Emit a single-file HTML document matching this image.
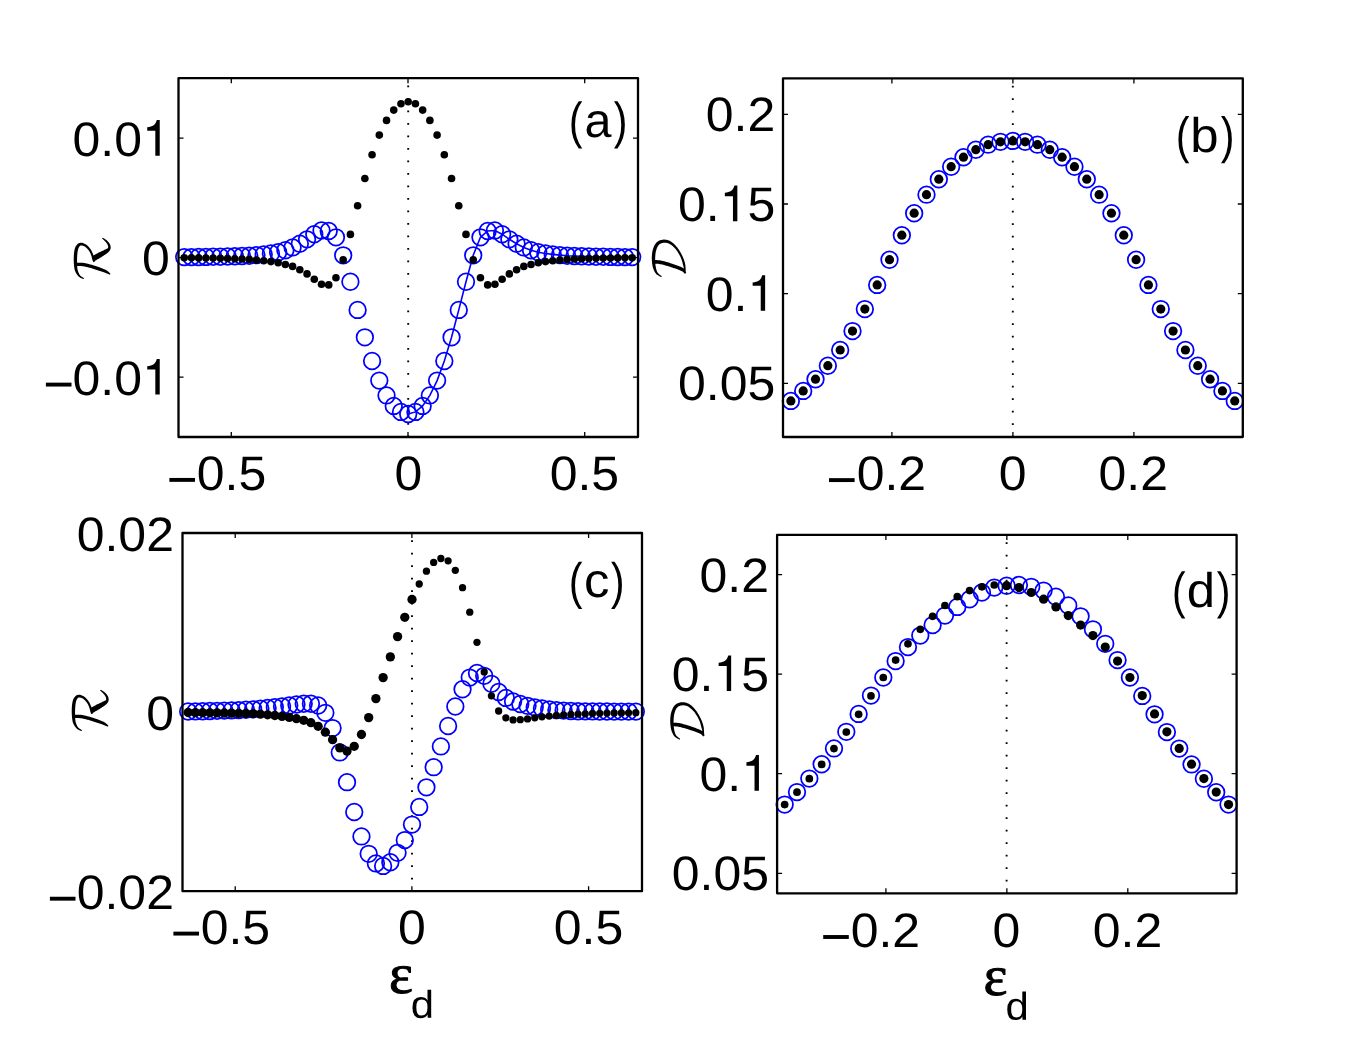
<!DOCTYPE html>
<html><head><meta charset="utf-8"><title>figure</title>
<style>html,body{margin:0;padding:0;background:#fff}svg{display:block}text{fill:#000;text-rendering:geometricPrecision}</style></head><body>
<svg width="1372" height="1050" viewBox="0 0 1372 1050">
<rect width="1372" height="1050" fill="#fff"/>
<line x1="408.20" y1="85.50" x2="408.20" y2="436.00" stroke="#000" stroke-width="1.9" stroke-dasharray="1.7 10.8"/>
<path d="M408.20 414.00 L415.43 411.90 L422.65 405.90 L429.88 395.40 L437.10 380.60 L444.32 361.00 L451.55 337.30 L458.77 309.90 L466.00 281.70 L473.22 255.30 L480.45 237.30 L487.67 231.00 L494.90 230.50 L502.12 234.20 L509.35 239.30 L516.58 243.70 L523.80 247.40 L531.02 250.20 L538.25 252.20 L545.48 253.50 L552.70 254.40 L559.92 255.10 L567.15 255.70 L574.38 256.00 L581.60 256.30 L588.83 256.50 L596.05 256.70 L603.27 256.80 L610.50 256.90 L617.72 257.00 L624.95 257.10 L632.17 257.10" fill="none" stroke="#0000ff" stroke-width="1.6"/>
<circle cx="184.22" cy="257.10" r="8.30" fill="none" stroke="#0000ff" stroke-width="1.75"/>
<circle cx="191.45" cy="257.10" r="8.30" fill="none" stroke="#0000ff" stroke-width="1.75"/>
<circle cx="198.68" cy="257.00" r="8.30" fill="none" stroke="#0000ff" stroke-width="1.75"/>
<circle cx="205.90" cy="256.90" r="8.30" fill="none" stroke="#0000ff" stroke-width="1.75"/>
<circle cx="213.12" cy="256.80" r="8.30" fill="none" stroke="#0000ff" stroke-width="1.75"/>
<circle cx="220.35" cy="256.70" r="8.30" fill="none" stroke="#0000ff" stroke-width="1.75"/>
<circle cx="227.57" cy="256.50" r="8.30" fill="none" stroke="#0000ff" stroke-width="1.75"/>
<circle cx="234.80" cy="256.30" r="8.30" fill="none" stroke="#0000ff" stroke-width="1.75"/>
<circle cx="242.03" cy="256.00" r="8.30" fill="none" stroke="#0000ff" stroke-width="1.75"/>
<circle cx="249.25" cy="255.70" r="8.30" fill="none" stroke="#0000ff" stroke-width="1.75"/>
<circle cx="256.48" cy="255.10" r="8.30" fill="none" stroke="#0000ff" stroke-width="1.75"/>
<circle cx="263.70" cy="254.40" r="8.30" fill="none" stroke="#0000ff" stroke-width="1.75"/>
<circle cx="270.92" cy="253.50" r="8.30" fill="none" stroke="#0000ff" stroke-width="1.75"/>
<circle cx="278.15" cy="252.20" r="8.30" fill="none" stroke="#0000ff" stroke-width="1.75"/>
<circle cx="285.38" cy="250.20" r="8.30" fill="none" stroke="#0000ff" stroke-width="1.75"/>
<circle cx="292.60" cy="247.40" r="8.30" fill="none" stroke="#0000ff" stroke-width="1.75"/>
<circle cx="299.82" cy="243.70" r="8.30" fill="none" stroke="#0000ff" stroke-width="1.75"/>
<circle cx="307.05" cy="239.30" r="8.30" fill="none" stroke="#0000ff" stroke-width="1.75"/>
<circle cx="314.27" cy="234.20" r="8.30" fill="none" stroke="#0000ff" stroke-width="1.75"/>
<circle cx="321.50" cy="230.50" r="8.30" fill="none" stroke="#0000ff" stroke-width="1.75"/>
<circle cx="328.73" cy="231.00" r="8.30" fill="none" stroke="#0000ff" stroke-width="1.75"/>
<circle cx="335.95" cy="237.30" r="8.30" fill="none" stroke="#0000ff" stroke-width="1.75"/>
<circle cx="343.18" cy="255.30" r="8.30" fill="none" stroke="#0000ff" stroke-width="1.75"/>
<circle cx="350.40" cy="281.70" r="8.30" fill="none" stroke="#0000ff" stroke-width="1.75"/>
<circle cx="357.62" cy="309.90" r="8.30" fill="none" stroke="#0000ff" stroke-width="1.75"/>
<circle cx="364.85" cy="337.30" r="8.30" fill="none" stroke="#0000ff" stroke-width="1.75"/>
<circle cx="372.07" cy="361.00" r="8.30" fill="none" stroke="#0000ff" stroke-width="1.75"/>
<circle cx="379.30" cy="380.60" r="8.30" fill="none" stroke="#0000ff" stroke-width="1.75"/>
<circle cx="386.52" cy="395.40" r="8.30" fill="none" stroke="#0000ff" stroke-width="1.75"/>
<circle cx="393.75" cy="405.90" r="8.30" fill="none" stroke="#0000ff" stroke-width="1.75"/>
<circle cx="400.97" cy="411.90" r="8.30" fill="none" stroke="#0000ff" stroke-width="1.75"/>
<circle cx="408.20" cy="414.00" r="8.30" fill="none" stroke="#0000ff" stroke-width="1.75"/>
<circle cx="415.43" cy="411.90" r="8.30" fill="none" stroke="#0000ff" stroke-width="1.75"/>
<circle cx="422.65" cy="405.90" r="8.30" fill="none" stroke="#0000ff" stroke-width="1.75"/>
<circle cx="429.88" cy="395.40" r="8.30" fill="none" stroke="#0000ff" stroke-width="1.75"/>
<circle cx="437.10" cy="380.60" r="8.30" fill="none" stroke="#0000ff" stroke-width="1.75"/>
<circle cx="444.32" cy="361.00" r="8.30" fill="none" stroke="#0000ff" stroke-width="1.75"/>
<circle cx="451.55" cy="337.30" r="8.30" fill="none" stroke="#0000ff" stroke-width="1.75"/>
<circle cx="458.77" cy="309.90" r="8.30" fill="none" stroke="#0000ff" stroke-width="1.75"/>
<circle cx="466.00" cy="281.70" r="8.30" fill="none" stroke="#0000ff" stroke-width="1.75"/>
<circle cx="473.22" cy="255.30" r="8.30" fill="none" stroke="#0000ff" stroke-width="1.75"/>
<circle cx="480.45" cy="237.30" r="8.30" fill="none" stroke="#0000ff" stroke-width="1.75"/>
<circle cx="487.67" cy="231.00" r="8.30" fill="none" stroke="#0000ff" stroke-width="1.75"/>
<circle cx="494.90" cy="230.50" r="8.30" fill="none" stroke="#0000ff" stroke-width="1.75"/>
<circle cx="502.12" cy="234.20" r="8.30" fill="none" stroke="#0000ff" stroke-width="1.75"/>
<circle cx="509.35" cy="239.30" r="8.30" fill="none" stroke="#0000ff" stroke-width="1.75"/>
<circle cx="516.58" cy="243.70" r="8.30" fill="none" stroke="#0000ff" stroke-width="1.75"/>
<circle cx="523.80" cy="247.40" r="8.30" fill="none" stroke="#0000ff" stroke-width="1.75"/>
<circle cx="531.02" cy="250.20" r="8.30" fill="none" stroke="#0000ff" stroke-width="1.75"/>
<circle cx="538.25" cy="252.20" r="8.30" fill="none" stroke="#0000ff" stroke-width="1.75"/>
<circle cx="545.48" cy="253.50" r="8.30" fill="none" stroke="#0000ff" stroke-width="1.75"/>
<circle cx="552.70" cy="254.40" r="8.30" fill="none" stroke="#0000ff" stroke-width="1.75"/>
<circle cx="559.92" cy="255.10" r="8.30" fill="none" stroke="#0000ff" stroke-width="1.75"/>
<circle cx="567.15" cy="255.70" r="8.30" fill="none" stroke="#0000ff" stroke-width="1.75"/>
<circle cx="574.38" cy="256.00" r="8.30" fill="none" stroke="#0000ff" stroke-width="1.75"/>
<circle cx="581.60" cy="256.30" r="8.30" fill="none" stroke="#0000ff" stroke-width="1.75"/>
<circle cx="588.83" cy="256.50" r="8.30" fill="none" stroke="#0000ff" stroke-width="1.75"/>
<circle cx="596.05" cy="256.70" r="8.30" fill="none" stroke="#0000ff" stroke-width="1.75"/>
<circle cx="603.27" cy="256.80" r="8.30" fill="none" stroke="#0000ff" stroke-width="1.75"/>
<circle cx="610.50" cy="256.90" r="8.30" fill="none" stroke="#0000ff" stroke-width="1.75"/>
<circle cx="617.72" cy="257.00" r="8.30" fill="none" stroke="#0000ff" stroke-width="1.75"/>
<circle cx="624.95" cy="257.10" r="8.30" fill="none" stroke="#0000ff" stroke-width="1.75"/>
<circle cx="632.17" cy="257.10" r="8.30" fill="none" stroke="#0000ff" stroke-width="1.75"/>
<circle cx="184.22" cy="257.70" r="3.80" fill="#000"/>
<circle cx="191.45" cy="257.80" r="3.80" fill="#000"/>
<circle cx="198.68" cy="257.90" r="3.80" fill="#000"/>
<circle cx="205.90" cy="258.00" r="3.80" fill="#000"/>
<circle cx="213.12" cy="258.10" r="3.80" fill="#000"/>
<circle cx="220.35" cy="258.30" r="3.80" fill="#000"/>
<circle cx="227.57" cy="258.50" r="3.80" fill="#000"/>
<circle cx="234.80" cy="258.70" r="3.80" fill="#000"/>
<circle cx="242.03" cy="259.00" r="3.80" fill="#000"/>
<circle cx="249.25" cy="259.40" r="3.80" fill="#000"/>
<circle cx="256.48" cy="260.10" r="3.80" fill="#000"/>
<circle cx="263.70" cy="260.70" r="3.80" fill="#000"/>
<circle cx="270.92" cy="261.60" r="3.80" fill="#000"/>
<circle cx="278.15" cy="262.70" r="3.80" fill="#000"/>
<circle cx="285.38" cy="264.50" r="3.80" fill="#000"/>
<circle cx="292.60" cy="266.40" r="3.80" fill="#000"/>
<circle cx="299.82" cy="269.70" r="3.80" fill="#000"/>
<circle cx="307.05" cy="273.90" r="3.80" fill="#000"/>
<circle cx="314.27" cy="279.20" r="3.80" fill="#000"/>
<circle cx="321.50" cy="284.20" r="3.80" fill="#000"/>
<circle cx="328.73" cy="284.90" r="3.80" fill="#000"/>
<circle cx="335.95" cy="277.80" r="3.80" fill="#000"/>
<circle cx="343.18" cy="259.90" r="3.80" fill="#000"/>
<circle cx="350.40" cy="234.40" r="3.80" fill="#000"/>
<circle cx="357.62" cy="205.70" r="3.80" fill="#000"/>
<circle cx="364.85" cy="178.50" r="3.80" fill="#000"/>
<circle cx="372.07" cy="154.80" r="3.80" fill="#000"/>
<circle cx="379.30" cy="135.10" r="3.80" fill="#000"/>
<circle cx="386.52" cy="120.40" r="3.80" fill="#000"/>
<circle cx="393.75" cy="110.10" r="3.80" fill="#000"/>
<circle cx="400.97" cy="103.80" r="3.80" fill="#000"/>
<circle cx="408.20" cy="101.70" r="3.80" fill="#000"/>
<circle cx="415.43" cy="103.80" r="3.80" fill="#000"/>
<circle cx="422.65" cy="110.10" r="3.80" fill="#000"/>
<circle cx="429.88" cy="120.40" r="3.80" fill="#000"/>
<circle cx="437.10" cy="135.10" r="3.80" fill="#000"/>
<circle cx="444.32" cy="154.80" r="3.80" fill="#000"/>
<circle cx="451.55" cy="178.50" r="3.80" fill="#000"/>
<circle cx="458.77" cy="205.70" r="3.80" fill="#000"/>
<circle cx="466.00" cy="234.40" r="3.80" fill="#000"/>
<circle cx="473.22" cy="259.90" r="3.80" fill="#000"/>
<circle cx="480.45" cy="277.80" r="3.80" fill="#000"/>
<circle cx="487.67" cy="284.90" r="3.80" fill="#000"/>
<circle cx="494.90" cy="284.20" r="3.80" fill="#000"/>
<circle cx="502.12" cy="279.20" r="3.80" fill="#000"/>
<circle cx="509.35" cy="273.90" r="3.80" fill="#000"/>
<circle cx="516.58" cy="269.70" r="3.80" fill="#000"/>
<circle cx="523.80" cy="266.40" r="3.80" fill="#000"/>
<circle cx="531.02" cy="264.50" r="3.80" fill="#000"/>
<circle cx="538.25" cy="262.70" r="3.80" fill="#000"/>
<circle cx="545.48" cy="261.60" r="3.80" fill="#000"/>
<circle cx="552.70" cy="260.70" r="3.80" fill="#000"/>
<circle cx="559.92" cy="260.10" r="3.80" fill="#000"/>
<circle cx="567.15" cy="259.40" r="3.80" fill="#000"/>
<circle cx="574.38" cy="259.00" r="3.80" fill="#000"/>
<circle cx="581.60" cy="258.70" r="3.80" fill="#000"/>
<circle cx="588.83" cy="258.50" r="3.80" fill="#000"/>
<circle cx="596.05" cy="258.30" r="3.80" fill="#000"/>
<circle cx="603.27" cy="258.10" r="3.80" fill="#000"/>
<circle cx="610.50" cy="258.00" r="3.80" fill="#000"/>
<circle cx="617.72" cy="257.90" r="3.80" fill="#000"/>
<circle cx="624.95" cy="257.80" r="3.80" fill="#000"/>
<circle cx="632.17" cy="257.70" r="3.80" fill="#000"/>
<rect x="178.50" y="78.20" width="459.50" height="358.80" fill="none" stroke="#000" stroke-width="2.30" stroke-linejoin="round"/>
<path d="M231.30 437.00v-5.00 M231.30 78.20v5.00 M408.00 437.00v-5.00 M408.00 78.20v5.00 M584.70 437.00v-5.00 M584.70 78.20v5.00 M178.50 138.10h5.00 M638.00 138.10h-5.00 M178.50 257.60h5.00 M638.00 257.60h-5.00 M178.50 377.20h5.00 M638.00 377.20h-5.00 " stroke="#000" stroke-width="1.30" fill="none"/>
<line x1="1012.80" y1="85.70" x2="1012.80" y2="436.00" stroke="#000" stroke-width="1.9" stroke-dasharray="1.7 10.8"/>
<circle cx="790.86" cy="400.90" r="8.30" fill="none" stroke="#0000ff" stroke-width="1.75"/>
<circle cx="803.19" cy="390.90" r="8.30" fill="none" stroke="#0000ff" stroke-width="1.75"/>
<circle cx="815.52" cy="379.20" r="8.30" fill="none" stroke="#0000ff" stroke-width="1.75"/>
<circle cx="827.85" cy="365.70" r="8.30" fill="none" stroke="#0000ff" stroke-width="1.75"/>
<circle cx="840.18" cy="350.00" r="8.30" fill="none" stroke="#0000ff" stroke-width="1.75"/>
<circle cx="852.51" cy="331.10" r="8.30" fill="none" stroke="#0000ff" stroke-width="1.75"/>
<circle cx="864.84" cy="309.10" r="8.30" fill="none" stroke="#0000ff" stroke-width="1.75"/>
<circle cx="877.17" cy="284.90" r="8.30" fill="none" stroke="#0000ff" stroke-width="1.75"/>
<circle cx="889.50" cy="259.70" r="8.30" fill="none" stroke="#0000ff" stroke-width="1.75"/>
<circle cx="901.83" cy="235.20" r="8.30" fill="none" stroke="#0000ff" stroke-width="1.75"/>
<circle cx="914.16" cy="213.20" r="8.30" fill="none" stroke="#0000ff" stroke-width="1.75"/>
<circle cx="926.49" cy="194.65" r="8.30" fill="none" stroke="#0000ff" stroke-width="1.75"/>
<circle cx="938.82" cy="179.20" r="8.30" fill="none" stroke="#0000ff" stroke-width="1.75"/>
<circle cx="951.15" cy="166.70" r="8.30" fill="none" stroke="#0000ff" stroke-width="1.75"/>
<circle cx="963.48" cy="157.20" r="8.30" fill="none" stroke="#0000ff" stroke-width="1.75"/>
<circle cx="975.81" cy="149.70" r="8.30" fill="none" stroke="#0000ff" stroke-width="1.75"/>
<circle cx="988.14" cy="144.65" r="8.30" fill="none" stroke="#0000ff" stroke-width="1.75"/>
<circle cx="1000.47" cy="141.80" r="8.30" fill="none" stroke="#0000ff" stroke-width="1.75"/>
<circle cx="1012.80" cy="140.90" r="8.30" fill="none" stroke="#0000ff" stroke-width="1.75"/>
<circle cx="1025.13" cy="141.80" r="8.30" fill="none" stroke="#0000ff" stroke-width="1.75"/>
<circle cx="1037.46" cy="144.65" r="8.30" fill="none" stroke="#0000ff" stroke-width="1.75"/>
<circle cx="1049.79" cy="149.70" r="8.30" fill="none" stroke="#0000ff" stroke-width="1.75"/>
<circle cx="1062.12" cy="157.20" r="8.30" fill="none" stroke="#0000ff" stroke-width="1.75"/>
<circle cx="1074.45" cy="166.70" r="8.30" fill="none" stroke="#0000ff" stroke-width="1.75"/>
<circle cx="1086.78" cy="179.20" r="8.30" fill="none" stroke="#0000ff" stroke-width="1.75"/>
<circle cx="1099.11" cy="194.65" r="8.30" fill="none" stroke="#0000ff" stroke-width="1.75"/>
<circle cx="1111.44" cy="213.20" r="8.30" fill="none" stroke="#0000ff" stroke-width="1.75"/>
<circle cx="1123.77" cy="235.20" r="8.30" fill="none" stroke="#0000ff" stroke-width="1.75"/>
<circle cx="1136.10" cy="259.70" r="8.30" fill="none" stroke="#0000ff" stroke-width="1.75"/>
<circle cx="1148.43" cy="284.90" r="8.30" fill="none" stroke="#0000ff" stroke-width="1.75"/>
<circle cx="1160.76" cy="309.10" r="8.30" fill="none" stroke="#0000ff" stroke-width="1.75"/>
<circle cx="1173.09" cy="331.10" r="8.30" fill="none" stroke="#0000ff" stroke-width="1.75"/>
<circle cx="1185.42" cy="350.00" r="8.30" fill="none" stroke="#0000ff" stroke-width="1.75"/>
<circle cx="1197.75" cy="365.70" r="8.30" fill="none" stroke="#0000ff" stroke-width="1.75"/>
<circle cx="1210.08" cy="379.20" r="8.30" fill="none" stroke="#0000ff" stroke-width="1.75"/>
<circle cx="1222.41" cy="390.90" r="8.30" fill="none" stroke="#0000ff" stroke-width="1.75"/>
<circle cx="1234.74" cy="400.90" r="8.30" fill="none" stroke="#0000ff" stroke-width="1.75"/>
<circle cx="790.86" cy="400.90" r="4.60" fill="#000"/>
<circle cx="803.19" cy="390.90" r="4.60" fill="#000"/>
<circle cx="815.52" cy="379.20" r="4.60" fill="#000"/>
<circle cx="827.85" cy="365.70" r="4.60" fill="#000"/>
<circle cx="840.18" cy="350.00" r="4.60" fill="#000"/>
<circle cx="852.51" cy="331.10" r="4.60" fill="#000"/>
<circle cx="864.84" cy="309.10" r="4.60" fill="#000"/>
<circle cx="877.17" cy="284.90" r="4.60" fill="#000"/>
<circle cx="889.50" cy="259.70" r="4.60" fill="#000"/>
<circle cx="901.83" cy="235.20" r="4.60" fill="#000"/>
<circle cx="914.16" cy="213.20" r="4.60" fill="#000"/>
<circle cx="926.49" cy="194.65" r="4.60" fill="#000"/>
<circle cx="938.82" cy="179.20" r="4.60" fill="#000"/>
<circle cx="951.15" cy="166.70" r="4.60" fill="#000"/>
<circle cx="963.48" cy="157.20" r="4.60" fill="#000"/>
<circle cx="975.81" cy="149.70" r="4.60" fill="#000"/>
<circle cx="988.14" cy="144.65" r="4.60" fill="#000"/>
<circle cx="1000.47" cy="141.80" r="4.60" fill="#000"/>
<circle cx="1012.80" cy="140.90" r="4.60" fill="#000"/>
<circle cx="1025.13" cy="141.80" r="4.60" fill="#000"/>
<circle cx="1037.46" cy="144.65" r="4.60" fill="#000"/>
<circle cx="1049.79" cy="149.70" r="4.60" fill="#000"/>
<circle cx="1062.12" cy="157.20" r="4.60" fill="#000"/>
<circle cx="1074.45" cy="166.70" r="4.60" fill="#000"/>
<circle cx="1086.78" cy="179.20" r="4.60" fill="#000"/>
<circle cx="1099.11" cy="194.65" r="4.60" fill="#000"/>
<circle cx="1111.44" cy="213.20" r="4.60" fill="#000"/>
<circle cx="1123.77" cy="235.20" r="4.60" fill="#000"/>
<circle cx="1136.10" cy="259.70" r="4.60" fill="#000"/>
<circle cx="1148.43" cy="284.90" r="4.60" fill="#000"/>
<circle cx="1160.76" cy="309.10" r="4.60" fill="#000"/>
<circle cx="1173.09" cy="331.10" r="4.60" fill="#000"/>
<circle cx="1185.42" cy="350.00" r="4.60" fill="#000"/>
<circle cx="1197.75" cy="365.70" r="4.60" fill="#000"/>
<circle cx="1210.08" cy="379.20" r="4.60" fill="#000"/>
<circle cx="1222.41" cy="390.90" r="4.60" fill="#000"/>
<circle cx="1234.74" cy="400.90" r="4.60" fill="#000"/>
<rect x="783.00" y="78.40" width="459.80" height="358.60" fill="none" stroke="#000" stroke-width="2.30" stroke-linejoin="round"/>
<path d="M891.90 437.00v-5.00 M891.90 78.40v5.00 M1012.90 437.00v-5.00 M1012.90 78.40v5.00 M1133.90 437.00v-5.00 M1133.90 78.40v5.00 M783.00 114.30h5.00 M1242.80 114.30h-5.00 M783.00 204.00h5.00 M1242.80 204.00h-5.00 M783.00 293.65h5.00 M1242.80 293.65h-5.00 M783.00 383.30h5.00 M1242.80 383.30h-5.00 " stroke="#000" stroke-width="1.30" fill="none"/>
<line x1="412.00" y1="540.30" x2="412.00" y2="890.20" stroke="#000" stroke-width="1.9" stroke-dasharray="1.7 10.8"/>
<circle cx="188.18" cy="711.50" r="8.30" fill="none" stroke="#0000ff" stroke-width="1.75"/>
<circle cx="195.40" cy="711.40" r="8.30" fill="none" stroke="#0000ff" stroke-width="1.75"/>
<circle cx="202.62" cy="711.20" r="8.30" fill="none" stroke="#0000ff" stroke-width="1.75"/>
<circle cx="209.84" cy="711.00" r="8.30" fill="none" stroke="#0000ff" stroke-width="1.75"/>
<circle cx="217.06" cy="710.80" r="8.30" fill="none" stroke="#0000ff" stroke-width="1.75"/>
<circle cx="224.28" cy="710.60" r="8.30" fill="none" stroke="#0000ff" stroke-width="1.75"/>
<circle cx="231.50" cy="710.40" r="8.30" fill="none" stroke="#0000ff" stroke-width="1.75"/>
<circle cx="238.72" cy="710.10" r="8.30" fill="none" stroke="#0000ff" stroke-width="1.75"/>
<circle cx="245.94" cy="709.70" r="8.30" fill="none" stroke="#0000ff" stroke-width="1.75"/>
<circle cx="253.16" cy="709.30" r="8.30" fill="none" stroke="#0000ff" stroke-width="1.75"/>
<circle cx="260.38" cy="708.70" r="8.30" fill="none" stroke="#0000ff" stroke-width="1.75"/>
<circle cx="267.60" cy="708.00" r="8.30" fill="none" stroke="#0000ff" stroke-width="1.75"/>
<circle cx="274.82" cy="707.20" r="8.30" fill="none" stroke="#0000ff" stroke-width="1.75"/>
<circle cx="282.04" cy="706.40" r="8.30" fill="none" stroke="#0000ff" stroke-width="1.75"/>
<circle cx="289.26" cy="705.50" r="8.30" fill="none" stroke="#0000ff" stroke-width="1.75"/>
<circle cx="296.48" cy="704.50" r="8.30" fill="none" stroke="#0000ff" stroke-width="1.75"/>
<circle cx="303.70" cy="703.70" r="8.30" fill="none" stroke="#0000ff" stroke-width="1.75"/>
<circle cx="310.92" cy="703.70" r="8.30" fill="none" stroke="#0000ff" stroke-width="1.75"/>
<circle cx="318.14" cy="705.50" r="8.30" fill="none" stroke="#0000ff" stroke-width="1.75"/>
<circle cx="325.36" cy="712.80" r="8.30" fill="none" stroke="#0000ff" stroke-width="1.75"/>
<circle cx="332.58" cy="728.10" r="8.30" fill="none" stroke="#0000ff" stroke-width="1.75"/>
<circle cx="339.80" cy="752.40" r="8.30" fill="none" stroke="#0000ff" stroke-width="1.75"/>
<circle cx="347.02" cy="782.15" r="8.30" fill="none" stroke="#0000ff" stroke-width="1.75"/>
<circle cx="354.24" cy="812.00" r="8.30" fill="none" stroke="#0000ff" stroke-width="1.75"/>
<circle cx="361.46" cy="836.40" r="8.30" fill="none" stroke="#0000ff" stroke-width="1.75"/>
<circle cx="368.68" cy="853.80" r="8.30" fill="none" stroke="#0000ff" stroke-width="1.75"/>
<circle cx="375.90" cy="863.40" r="8.30" fill="none" stroke="#0000ff" stroke-width="1.75"/>
<circle cx="383.12" cy="865.90" r="8.30" fill="none" stroke="#0000ff" stroke-width="1.75"/>
<circle cx="390.34" cy="862.20" r="8.30" fill="none" stroke="#0000ff" stroke-width="1.75"/>
<circle cx="397.56" cy="852.80" r="8.30" fill="none" stroke="#0000ff" stroke-width="1.75"/>
<circle cx="404.78" cy="840.10" r="8.30" fill="none" stroke="#0000ff" stroke-width="1.75"/>
<circle cx="412.00" cy="824.60" r="8.30" fill="none" stroke="#0000ff" stroke-width="1.75"/>
<circle cx="419.22" cy="806.90" r="8.30" fill="none" stroke="#0000ff" stroke-width="1.75"/>
<circle cx="426.44" cy="787.35" r="8.30" fill="none" stroke="#0000ff" stroke-width="1.75"/>
<circle cx="433.66" cy="767.15" r="8.30" fill="none" stroke="#0000ff" stroke-width="1.75"/>
<circle cx="440.88" cy="746.40" r="8.30" fill="none" stroke="#0000ff" stroke-width="1.75"/>
<circle cx="448.10" cy="726.00" r="8.30" fill="none" stroke="#0000ff" stroke-width="1.75"/>
<circle cx="455.32" cy="706.50" r="8.30" fill="none" stroke="#0000ff" stroke-width="1.75"/>
<circle cx="462.54" cy="689.20" r="8.30" fill="none" stroke="#0000ff" stroke-width="1.75"/>
<circle cx="469.76" cy="677.60" r="8.30" fill="none" stroke="#0000ff" stroke-width="1.75"/>
<circle cx="476.98" cy="673.00" r="8.30" fill="none" stroke="#0000ff" stroke-width="1.75"/>
<circle cx="484.20" cy="675.80" r="8.30" fill="none" stroke="#0000ff" stroke-width="1.75"/>
<circle cx="491.42" cy="683.80" r="8.30" fill="none" stroke="#0000ff" stroke-width="1.75"/>
<circle cx="498.64" cy="692.00" r="8.30" fill="none" stroke="#0000ff" stroke-width="1.75"/>
<circle cx="505.86" cy="697.90" r="8.30" fill="none" stroke="#0000ff" stroke-width="1.75"/>
<circle cx="513.08" cy="701.50" r="8.30" fill="none" stroke="#0000ff" stroke-width="1.75"/>
<circle cx="520.30" cy="704.00" r="8.30" fill="none" stroke="#0000ff" stroke-width="1.75"/>
<circle cx="527.52" cy="705.80" r="8.30" fill="none" stroke="#0000ff" stroke-width="1.75"/>
<circle cx="534.74" cy="707.30" r="8.30" fill="none" stroke="#0000ff" stroke-width="1.75"/>
<circle cx="541.96" cy="708.50" r="8.30" fill="none" stroke="#0000ff" stroke-width="1.75"/>
<circle cx="549.18" cy="709.40" r="8.30" fill="none" stroke="#0000ff" stroke-width="1.75"/>
<circle cx="556.40" cy="710.10" r="8.30" fill="none" stroke="#0000ff" stroke-width="1.75"/>
<circle cx="563.62" cy="710.60" r="8.30" fill="none" stroke="#0000ff" stroke-width="1.75"/>
<circle cx="570.84" cy="711.00" r="8.30" fill="none" stroke="#0000ff" stroke-width="1.75"/>
<circle cx="578.06" cy="711.20" r="8.30" fill="none" stroke="#0000ff" stroke-width="1.75"/>
<circle cx="585.28" cy="711.30" r="8.30" fill="none" stroke="#0000ff" stroke-width="1.75"/>
<circle cx="592.50" cy="711.40" r="8.30" fill="none" stroke="#0000ff" stroke-width="1.75"/>
<circle cx="599.72" cy="711.50" r="8.30" fill="none" stroke="#0000ff" stroke-width="1.75"/>
<circle cx="606.94" cy="711.50" r="8.30" fill="none" stroke="#0000ff" stroke-width="1.75"/>
<circle cx="614.16" cy="711.60" r="8.30" fill="none" stroke="#0000ff" stroke-width="1.75"/>
<circle cx="621.38" cy="711.60" r="8.30" fill="none" stroke="#0000ff" stroke-width="1.75"/>
<circle cx="628.60" cy="711.60" r="8.30" fill="none" stroke="#0000ff" stroke-width="1.75"/>
<circle cx="635.82" cy="711.60" r="8.30" fill="none" stroke="#0000ff" stroke-width="1.75"/>
<circle cx="188.18" cy="712.50" r="4.65" fill="#000"/>
<circle cx="195.40" cy="712.60" r="4.65" fill="#000"/>
<circle cx="202.62" cy="712.70" r="4.65" fill="#000"/>
<circle cx="209.84" cy="712.80" r="4.65" fill="#000"/>
<circle cx="217.06" cy="712.90" r="4.65" fill="#000"/>
<circle cx="224.28" cy="713.00" r="4.65" fill="#000"/>
<circle cx="231.50" cy="713.10" r="4.65" fill="#000"/>
<circle cx="238.72" cy="713.30" r="4.65" fill="#000"/>
<circle cx="245.94" cy="713.40" r="4.65" fill="#000"/>
<circle cx="253.16" cy="713.60" r="4.65" fill="#000"/>
<circle cx="260.38" cy="714.20" r="4.65" fill="#000"/>
<circle cx="267.60" cy="714.80" r="4.65" fill="#000"/>
<circle cx="274.82" cy="715.50" r="4.65" fill="#000"/>
<circle cx="282.04" cy="716.40" r="4.65" fill="#000"/>
<circle cx="289.26" cy="717.40" r="4.65" fill="#000"/>
<circle cx="296.48" cy="718.70" r="4.65" fill="#000"/>
<circle cx="303.70" cy="720.30" r="4.65" fill="#000"/>
<circle cx="310.92" cy="722.70" r="4.65" fill="#000"/>
<circle cx="318.14" cy="726.30" r="4.65" fill="#000"/>
<circle cx="325.36" cy="732.20" r="4.65" fill="#000"/>
<circle cx="332.58" cy="739.70" r="4.65" fill="#000"/>
<circle cx="339.80" cy="747.90" r="4.65" fill="#000"/>
<circle cx="347.02" cy="751.10" r="4.65" fill="#000"/>
<circle cx="354.24" cy="746.30" r="4.65" fill="#000"/>
<circle cx="361.46" cy="734.50" r="4.65" fill="#000"/>
<circle cx="368.68" cy="717.60" r="4.65" fill="#000"/>
<circle cx="375.90" cy="698.60" r="4.65" fill="#000"/>
<circle cx="383.12" cy="677.60" r="4.65" fill="#000"/>
<circle cx="390.34" cy="656.90" r="4.65" fill="#000"/>
<circle cx="397.56" cy="636.60" r="4.65" fill="#000"/>
<circle cx="404.78" cy="617.30" r="4.65" fill="#000"/>
<circle cx="412.00" cy="599.50" r="4.65" fill="#000"/>
<circle cx="419.22" cy="584.00" r="3.65" fill="#000"/>
<circle cx="426.44" cy="571.20" r="3.65" fill="#000"/>
<circle cx="433.66" cy="562.40" r="3.65" fill="#000"/>
<circle cx="440.88" cy="558.50" r="3.65" fill="#000"/>
<circle cx="448.10" cy="560.80" r="3.65" fill="#000"/>
<circle cx="455.32" cy="570.30" r="3.65" fill="#000"/>
<circle cx="462.54" cy="587.70" r="3.65" fill="#000"/>
<circle cx="469.76" cy="612.20" r="3.65" fill="#000"/>
<circle cx="476.98" cy="642.30" r="3.65" fill="#000"/>
<circle cx="484.20" cy="671.90" r="3.65" fill="#000"/>
<circle cx="491.42" cy="695.80" r="3.65" fill="#000"/>
<circle cx="498.64" cy="711.00" r="3.65" fill="#000"/>
<circle cx="505.86" cy="717.80" r="3.65" fill="#000"/>
<circle cx="513.08" cy="719.90" r="3.65" fill="#000"/>
<circle cx="520.30" cy="719.70" r="3.65" fill="#000"/>
<circle cx="527.52" cy="718.90" r="3.65" fill="#000"/>
<circle cx="534.74" cy="717.80" r="3.65" fill="#000"/>
<circle cx="541.96" cy="716.80" r="3.65" fill="#000"/>
<circle cx="549.18" cy="716.10" r="3.65" fill="#000"/>
<circle cx="556.40" cy="715.50" r="3.65" fill="#000"/>
<circle cx="563.62" cy="714.90" r="3.65" fill="#000"/>
<circle cx="570.84" cy="714.50" r="3.65" fill="#000"/>
<circle cx="578.06" cy="714.10" r="3.65" fill="#000"/>
<circle cx="585.28" cy="713.80" r="3.65" fill="#000"/>
<circle cx="592.50" cy="713.50" r="3.65" fill="#000"/>
<circle cx="599.72" cy="713.30" r="3.65" fill="#000"/>
<circle cx="606.94" cy="713.10" r="3.65" fill="#000"/>
<circle cx="614.16" cy="713.00" r="3.65" fill="#000"/>
<circle cx="621.38" cy="712.90" r="3.65" fill="#000"/>
<circle cx="628.60" cy="712.80" r="3.65" fill="#000"/>
<circle cx="635.82" cy="712.70" r="3.65" fill="#000"/>
<rect x="182.50" y="533.00" width="459.50" height="358.20" fill="none" stroke="#000" stroke-width="2.30" stroke-linejoin="round"/>
<path d="M235.20 891.20v-5.00 M235.20 533.00v5.00 M411.90 891.20v-5.00 M411.90 533.00v5.00 M588.60 891.20v-5.00 M588.60 533.00v5.00 " stroke="#000" stroke-width="1.30" fill="none"/>
<line x1="1006.60" y1="542.20" x2="1006.60" y2="892.30" stroke="#000" stroke-width="1.9" stroke-dasharray="1.7 10.8"/>
<circle cx="784.66" cy="804.60" r="8.30" fill="none" stroke="#0000ff" stroke-width="1.75"/>
<circle cx="796.99" cy="792.10" r="8.30" fill="none" stroke="#0000ff" stroke-width="1.75"/>
<circle cx="809.32" cy="778.60" r="8.30" fill="none" stroke="#0000ff" stroke-width="1.75"/>
<circle cx="821.65" cy="764.20" r="8.30" fill="none" stroke="#0000ff" stroke-width="1.75"/>
<circle cx="833.98" cy="748.40" r="8.30" fill="none" stroke="#0000ff" stroke-width="1.75"/>
<circle cx="846.31" cy="731.80" r="8.30" fill="none" stroke="#0000ff" stroke-width="1.75"/>
<circle cx="858.64" cy="713.90" r="8.30" fill="none" stroke="#0000ff" stroke-width="1.75"/>
<circle cx="870.97" cy="695.60" r="8.30" fill="none" stroke="#0000ff" stroke-width="1.75"/>
<circle cx="883.30" cy="677.50" r="8.30" fill="none" stroke="#0000ff" stroke-width="1.75"/>
<circle cx="895.63" cy="661.10" r="8.30" fill="none" stroke="#0000ff" stroke-width="1.75"/>
<circle cx="907.96" cy="647.10" r="8.30" fill="none" stroke="#0000ff" stroke-width="1.75"/>
<circle cx="920.29" cy="635.60" r="8.30" fill="none" stroke="#0000ff" stroke-width="1.75"/>
<circle cx="932.62" cy="625.10" r="8.30" fill="none" stroke="#0000ff" stroke-width="1.75"/>
<circle cx="944.95" cy="615.60" r="8.30" fill="none" stroke="#0000ff" stroke-width="1.75"/>
<circle cx="957.28" cy="606.90" r="8.30" fill="none" stroke="#0000ff" stroke-width="1.75"/>
<circle cx="969.61" cy="599.20" r="8.30" fill="none" stroke="#0000ff" stroke-width="1.75"/>
<circle cx="981.94" cy="592.50" r="8.30" fill="none" stroke="#0000ff" stroke-width="1.75"/>
<circle cx="994.27" cy="587.60" r="8.30" fill="none" stroke="#0000ff" stroke-width="1.75"/>
<circle cx="1006.60" cy="585.70" r="8.30" fill="none" stroke="#0000ff" stroke-width="1.75"/>
<circle cx="1018.93" cy="585.00" r="8.30" fill="none" stroke="#0000ff" stroke-width="1.75"/>
<circle cx="1031.26" cy="586.80" r="8.30" fill="none" stroke="#0000ff" stroke-width="1.75"/>
<circle cx="1043.59" cy="590.60" r="8.30" fill="none" stroke="#0000ff" stroke-width="1.75"/>
<circle cx="1055.92" cy="596.70" r="8.30" fill="none" stroke="#0000ff" stroke-width="1.75"/>
<circle cx="1068.25" cy="605.50" r="8.30" fill="none" stroke="#0000ff" stroke-width="1.75"/>
<circle cx="1080.58" cy="616.30" r="8.30" fill="none" stroke="#0000ff" stroke-width="1.75"/>
<circle cx="1092.91" cy="629.30" r="8.30" fill="none" stroke="#0000ff" stroke-width="1.75"/>
<circle cx="1105.24" cy="643.80" r="8.30" fill="none" stroke="#0000ff" stroke-width="1.75"/>
<circle cx="1117.57" cy="660.10" r="8.30" fill="none" stroke="#0000ff" stroke-width="1.75"/>
<circle cx="1129.90" cy="677.50" r="8.30" fill="none" stroke="#0000ff" stroke-width="1.75"/>
<circle cx="1142.23" cy="695.90" r="8.30" fill="none" stroke="#0000ff" stroke-width="1.75"/>
<circle cx="1154.56" cy="714.30" r="8.30" fill="none" stroke="#0000ff" stroke-width="1.75"/>
<circle cx="1166.89" cy="732.10" r="8.30" fill="none" stroke="#0000ff" stroke-width="1.75"/>
<circle cx="1179.22" cy="748.60" r="8.30" fill="none" stroke="#0000ff" stroke-width="1.75"/>
<circle cx="1191.55" cy="764.40" r="8.30" fill="none" stroke="#0000ff" stroke-width="1.75"/>
<circle cx="1203.88" cy="778.70" r="8.30" fill="none" stroke="#0000ff" stroke-width="1.75"/>
<circle cx="1216.21" cy="792.20" r="8.30" fill="none" stroke="#0000ff" stroke-width="1.75"/>
<circle cx="1228.54" cy="804.60" r="8.30" fill="none" stroke="#0000ff" stroke-width="1.75"/>
<circle cx="784.66" cy="804.60" r="3.85" fill="#000"/>
<circle cx="796.99" cy="792.20" r="3.85" fill="#000"/>
<circle cx="809.32" cy="778.70" r="3.85" fill="#000"/>
<circle cx="821.65" cy="764.40" r="3.85" fill="#000"/>
<circle cx="833.98" cy="748.60" r="3.85" fill="#000"/>
<circle cx="846.31" cy="732.10" r="3.85" fill="#000"/>
<circle cx="858.64" cy="714.30" r="3.85" fill="#000"/>
<circle cx="870.97" cy="695.90" r="3.85" fill="#000"/>
<circle cx="883.30" cy="677.50" r="3.85" fill="#000"/>
<circle cx="895.63" cy="660.10" r="3.85" fill="#000"/>
<circle cx="907.96" cy="643.80" r="3.85" fill="#000"/>
<circle cx="920.29" cy="629.30" r="3.85" fill="#000"/>
<circle cx="932.62" cy="616.30" r="3.85" fill="#000"/>
<circle cx="944.95" cy="605.50" r="3.85" fill="#000"/>
<circle cx="957.28" cy="596.70" r="3.85" fill="#000"/>
<circle cx="969.61" cy="590.60" r="3.85" fill="#000"/>
<circle cx="981.94" cy="586.80" r="3.85" fill="#000"/>
<circle cx="994.27" cy="585.00" r="3.85" fill="#000"/>
<circle cx="1006.60" cy="585.70" r="4.60" fill="#000"/>
<circle cx="1018.93" cy="587.60" r="4.60" fill="#000"/>
<circle cx="1031.26" cy="592.50" r="4.60" fill="#000"/>
<circle cx="1043.59" cy="599.20" r="4.60" fill="#000"/>
<circle cx="1055.92" cy="606.90" r="4.60" fill="#000"/>
<circle cx="1068.25" cy="615.60" r="4.60" fill="#000"/>
<circle cx="1080.58" cy="625.10" r="4.60" fill="#000"/>
<circle cx="1092.91" cy="635.60" r="4.60" fill="#000"/>
<circle cx="1105.24" cy="647.10" r="4.60" fill="#000"/>
<circle cx="1117.57" cy="661.10" r="4.60" fill="#000"/>
<circle cx="1129.90" cy="677.50" r="4.60" fill="#000"/>
<circle cx="1142.23" cy="695.60" r="4.60" fill="#000"/>
<circle cx="1154.56" cy="713.90" r="4.60" fill="#000"/>
<circle cx="1166.89" cy="731.80" r="4.60" fill="#000"/>
<circle cx="1179.22" cy="748.40" r="4.60" fill="#000"/>
<circle cx="1191.55" cy="764.20" r="4.60" fill="#000"/>
<circle cx="1203.88" cy="778.60" r="4.60" fill="#000"/>
<circle cx="1216.21" cy="792.10" r="4.60" fill="#000"/>
<circle cx="1228.54" cy="804.60" r="4.60" fill="#000"/>
<rect x="777.10" y="534.90" width="459.50" height="358.40" fill="none" stroke="#000" stroke-width="2.30" stroke-linejoin="round"/>
<path d="M885.90 893.30v-5.00 M885.90 534.90v5.00 M1006.85 893.30v-5.00 M1006.85 534.90v5.00 M1127.80 893.30v-5.00 M1127.80 534.90v5.00 M777.10 574.60h5.00 M1236.60 574.60h-5.00 M777.10 674.10h5.00 M1236.60 674.10h-5.00 M777.10 773.70h5.00 M1236.60 773.70h-5.00 M777.10 873.30h5.00 M1236.60 873.30h-5.00 " stroke="#000" stroke-width="1.30" fill="none"/>
<text transform="translate(72.59 155.70) scale(1.030 1)" font-family="Liberation Sans" font-size="48.50" text-anchor="start">0.0</text>
<path d="M159.73 120.10 L159.73 155.70 L155.33 155.70 L155.33 130.70 L147.23 130.70 L147.23 127.30 C152.73 126.90 155.73 124.70 156.83 120.10 Z" fill="#000"/>
<text transform="translate(142.03 274.50) scale(1.030 1)" font-family="Liberation Sans" font-size="48.50" text-anchor="start">0</text>
<text transform="translate(72.59 394.60) scale(1.030 1)" font-family="Liberation Sans" font-size="48.50" text-anchor="start">0.0</text>
<path d="M159.73 359.00 L159.73 394.60 L155.33 394.60 L155.33 369.60 L147.23 369.60 L147.23 366.20 C152.73 365.80 155.73 363.60 156.83 359.00 Z" fill="#000"/>
<rect x="45.90" y="382.65" width="25.60" height="3.90" fill="#000"/>
<text transform="translate(196.78 489.90) scale(1.030 1)" font-family="Liberation Sans" font-size="48.50" text-anchor="start">0.5</text>
<rect x="169.40" y="477.95" width="25.60" height="3.90" fill="#000"/>
<text transform="translate(394.41 489.90) scale(1.030 1)" font-family="Liberation Sans" font-size="48.50" text-anchor="start">0</text>
<text transform="translate(549.68 489.90) scale(1.030 1)" font-family="Liberation Sans" font-size="48.50" text-anchor="start">0.5</text>
<text transform="translate(705.76 131.45) scale(1.030 1)" font-family="Liberation Sans" font-size="48.50" text-anchor="start">0.2</text>
<text transform="translate(677.99 221.15) scale(1.030 1)" font-family="Liberation Sans" font-size="48.50" text-anchor="start">0.</text>
<path d="M737.35 185.55 L737.35 221.15 L732.95 221.15 L732.95 196.15 L724.85 196.15 L724.85 192.75 C730.35 192.35 733.35 190.15 734.45 185.55 Z" fill="#000"/>
<text transform="translate(747.43 221.15) scale(1.030 1)" font-family="Liberation Sans" font-size="48.50" text-anchor="start">5</text>
<text transform="translate(705.76 310.80) scale(1.030 1)" font-family="Liberation Sans" font-size="48.50" text-anchor="start">0.</text>
<path d="M765.13 275.20 L765.13 310.80 L760.73 310.80 L760.73 285.80 L752.63 285.80 L752.63 282.40 C758.13 282.00 761.13 279.80 762.23 275.20 Z" fill="#000"/>
<text transform="translate(677.99 400.45) scale(1.030 1)" font-family="Liberation Sans" font-size="48.50" text-anchor="start">0.05</text>
<text transform="translate(856.68 490.10) scale(1.030 1)" font-family="Liberation Sans" font-size="48.50" text-anchor="start">0.2</text>
<rect x="829.00" y="478.15" width="25.60" height="3.90" fill="#000"/>
<text transform="translate(998.81 490.10) scale(1.030 1)" font-family="Liberation Sans" font-size="48.50" text-anchor="start">0</text>
<text transform="translate(1098.58 490.10) scale(1.030 1)" font-family="Liberation Sans" font-size="48.50" text-anchor="start">0.2</text>
<text transform="translate(76.69 550.80) scale(1.030 1)" font-family="Liberation Sans" font-size="48.50" text-anchor="start">0.02</text>
<text transform="translate(146.13 729.70) scale(1.030 1)" font-family="Liberation Sans" font-size="48.50" text-anchor="start">0</text>
<text transform="translate(76.69 908.70) scale(1.030 1)" font-family="Liberation Sans" font-size="48.50" text-anchor="start">0.02</text>
<rect x="49.90" y="896.75" width="25.60" height="3.90" fill="#000"/>
<text transform="translate(200.68 943.60) scale(1.030 1)" font-family="Liberation Sans" font-size="48.50" text-anchor="start">0.5</text>
<rect x="173.40" y="931.65" width="25.60" height="3.90" fill="#000"/>
<text transform="translate(398.11 943.60) scale(1.030 1)" font-family="Liberation Sans" font-size="48.50" text-anchor="start">0</text>
<text transform="translate(553.78 943.60) scale(1.030 1)" font-family="Liberation Sans" font-size="48.50" text-anchor="start">0.5</text>
<text transform="translate(699.56 591.60) scale(1.030 1)" font-family="Liberation Sans" font-size="48.50" text-anchor="start">0.2</text>
<text transform="translate(671.79 691.10) scale(1.030 1)" font-family="Liberation Sans" font-size="48.50" text-anchor="start">0.</text>
<path d="M731.15 655.50 L731.15 691.10 L726.75 691.10 L726.75 666.10 L718.65 666.10 L718.65 662.70 C724.15 662.30 727.15 660.10 728.25 655.50 Z" fill="#000"/>
<text transform="translate(741.23 691.10) scale(1.030 1)" font-family="Liberation Sans" font-size="48.50" text-anchor="start">5</text>
<text transform="translate(699.56 790.70) scale(1.030 1)" font-family="Liberation Sans" font-size="48.50" text-anchor="start">0.</text>
<path d="M758.93 755.10 L758.93 790.70 L754.53 790.70 L754.53 765.70 L746.43 765.70 L746.43 762.30 C751.93 761.90 754.93 759.70 756.03 755.10 Z" fill="#000"/>
<text transform="translate(671.79 890.30) scale(1.030 1)" font-family="Liberation Sans" font-size="48.50" text-anchor="start">0.05</text>
<text transform="translate(850.68 947.00) scale(1.030 1)" font-family="Liberation Sans" font-size="48.50" text-anchor="start">0.2</text>
<rect x="823.20" y="935.05" width="25.60" height="3.90" fill="#000"/>
<text transform="translate(992.61 947.00) scale(1.030 1)" font-family="Liberation Sans" font-size="48.50" text-anchor="start">0</text>
<text transform="translate(1092.78 947.00) scale(1.030 1)" font-family="Liberation Sans" font-size="48.50" text-anchor="start">0.2</text>
<path transform="translate(568.90 138.00) scale(0.01989 -0.02475)" d="M127 532Q127 821 217.5 1051.0Q308 1281 496 1484H670Q483 1276 395.5 1042.0Q308 808 308 530Q308 253 394.5 20.0Q481 -213 670 -424H496Q307 -220 217.0 10.5Q127 241 127 528Z" fill="#000"/>
<path transform="translate(613.80 138.00) scale(0.01989 -0.02475)" d="M555 528Q555 239 464.5 9.0Q374 -221 186 -424H12Q200 -214 287.0 18.5Q374 251 374 530Q374 809 286.5 1042.0Q199 1275 12 1484H186Q375 1280 465.0 1049.5Q555 819 555 532Z" fill="#000"/>
<text transform="translate(584.60 136.80) scale(1.000 1)" font-family="Liberation Sans" font-size="48.50" text-anchor="start">a</text>
<path transform="translate(1175.90 152.80) scale(0.01989 -0.02475)" d="M127 532Q127 821 217.5 1051.0Q308 1281 496 1484H670Q483 1276 395.5 1042.0Q308 808 308 530Q308 253 394.5 20.0Q481 -213 670 -424H496Q307 -220 217.0 10.5Q127 241 127 528Z" fill="#000"/>
<path transform="translate(1220.80 152.80) scale(0.01989 -0.02475)" d="M555 528Q555 239 464.5 9.0Q374 -221 186 -424H12Q200 -214 287.0 18.5Q374 251 374 530Q374 809 286.5 1042.0Q199 1275 12 1484H186Q375 1280 465.0 1049.5Q555 819 555 532Z" fill="#000"/>
<text transform="translate(1190.30 151.60) scale(1.050 1)" font-family="Liberation Sans" font-size="48.50" text-anchor="start">b</text>
<path transform="translate(568.90 598.50) scale(0.01989 -0.02475)" d="M127 532Q127 821 217.5 1051.0Q308 1281 496 1484H670Q483 1276 395.5 1042.0Q308 808 308 530Q308 253 394.5 20.0Q481 -213 670 -424H496Q307 -220 217.0 10.5Q127 241 127 528Z" fill="#000"/>
<path transform="translate(610.90 598.50) scale(0.01989 -0.02475)" d="M555 528Q555 239 464.5 9.0Q374 -221 186 -424H12Q200 -214 287.0 18.5Q374 251 374 530Q374 809 286.5 1042.0Q199 1275 12 1484H186Q375 1280 465.0 1049.5Q555 819 555 532Z" fill="#000"/>
<text transform="translate(584.00 597.30) scale(1.050 1)" font-family="Liberation Sans" font-size="48.50" text-anchor="start">c</text>
<path transform="translate(1172.00 608.00) scale(0.01989 -0.02475)" d="M127 532Q127 821 217.5 1051.0Q308 1281 496 1484H670Q483 1276 395.5 1042.0Q308 808 308 530Q308 253 394.5 20.0Q481 -213 670 -424H496Q307 -220 217.0 10.5Q127 241 127 528Z" fill="#000"/>
<path transform="translate(1216.80 608.00) scale(0.01989 -0.02475)" d="M555 528Q555 239 464.5 9.0Q374 -221 186 -424H12Q200 -214 287.0 18.5Q374 251 374 530Q374 809 286.5 1042.0Q199 1275 12 1484H186Q375 1280 465.0 1049.5Q555 819 555 532Z" fill="#000"/>
<text transform="translate(1186.80 606.80) scale(1.050 1)" font-family="Liberation Sans" font-size="48.50" text-anchor="start">d</text>
<text transform="translate(389.00 993.30) scale(1 1)" font-family="Liberation Serif" font-size="57" stroke="#000" stroke-width="1.0" stroke-linejoin="round">&#949;</text>
<path transform="translate(410.70 1017.80) scale(0.02046 -0.01895)" d="M821 174Q771 70 688.5 25.0Q606 -20 484 -20Q279 -20 182.5 118.0Q86 256 86 536Q86 1102 484 1102Q607 1102 689.0 1057.0Q771 1012 821 914H823L821 1035V1484H1001V223Q1001 54 1007 0H835Q832 16 828.5 74.0Q825 132 825 174ZM275 542Q275 315 335.0 217.0Q395 119 530 119Q683 119 752.0 225.0Q821 331 821 554Q821 769 752.0 869.0Q683 969 532 969Q396 969 335.5 868.5Q275 768 275 542Z" fill="#000"/>
<text transform="translate(983.40 995.40) scale(1 1)" font-family="Liberation Serif" font-size="57" stroke="#000" stroke-width="1.0" stroke-linejoin="round">&#949;</text>
<path transform="translate(1005.50 1019.70) scale(0.02046 -0.01895)" d="M821 174Q771 70 688.5 25.0Q606 -20 484 -20Q279 -20 182.5 118.0Q86 256 86 536Q86 1102 484 1102Q607 1102 689.0 1057.0Q771 1012 821 914H823L821 1035V1484H1001V223Q1001 54 1007 0H835Q832 16 828.5 74.0Q825 132 825 174ZM275 542Q275 315 335.0 217.0Q395 119 530 119Q683 119 752.0 225.0Q821 331 821 554Q821 769 752.0 869.0Q683 969 532 969Q396 969 335.5 868.5Q275 768 275 542Z" fill="#000"/>
<path transform="translate(0.00 0.00)" d="M83.98 278.25 L83.73 278.05 L83.38 277.82 L82.98 277.57 L82.54 277.30 L82.07 277.01 L81.60 276.69 L81.14 276.35 L80.72 276.00 L80.35 275.64 L80.04 275.26 L79.75 274.84 L79.45 274.38 L79.16 273.89 L78.89 273.37 L78.63 272.82 L78.39 272.26 L78.16 271.68 L77.96 271.09 L77.79 270.48 L77.64 269.88 L77.51 269.26 L77.40 268.62 L77.31 267.94 L77.25 267.23 L77.20 266.49 L77.16 265.74 L77.14 264.97 L77.13 264.18 L77.12 263.38 L77.11 262.59 L77.08 261.78 L77.07 260.96 L77.06 260.12 L77.07 259.27 L77.08 258.42 L77.10 257.58 L77.14 256.75 L77.18 255.94 L77.24 255.17 L77.31 254.43 L77.37 253.71 L77.45 252.99 L77.53 252.30 L77.62 251.63 L77.72 250.99 L77.83 250.38 L77.96 249.81 L78.10 249.29 L78.25 248.82 L78.42 248.39 L78.59 247.96 L78.79 247.55 L78.99 247.17 L79.21 246.81 L79.43 246.50 L79.66 246.22 L79.88 245.99 L80.10 245.81 L80.31 245.66 L80.51 245.56 L80.73 245.49 L81.01 245.45 L81.35 245.44 L81.74 245.47 L82.17 245.54 L82.61 245.64 L83.06 245.78 L83.52 245.94 L83.96 246.13 L84.39 246.33 L84.79 246.56 L85.20 246.84 L85.63 247.17 L86.06 247.53 L86.49 247.92 L86.91 248.33 L87.32 248.76 L87.72 249.20 L88.10 249.63 L88.45 250.06 L88.77 250.49 L89.07 250.93 L89.35 251.39 L89.62 251.86 L89.88 252.33 L90.13 252.82 L90.37 253.32 L90.59 253.81 L90.81 254.31 L91.01 254.80 L91.19 255.29 L91.36 255.80 L91.52 256.33 L91.66 256.87 L91.80 257.42 L91.93 257.96 L92.05 258.48 L92.16 258.98 L92.28 259.44 L92.39 259.86 L92.52 260.23 L92.63 260.55 L92.74 260.84 L92.83 261.10 L92.93 261.34 L93.01 261.54 L93.09 261.72 L93.16 261.88 L93.22 262.01 L93.28 262.12 L94.81 261.65 L94.79 261.52 L94.76 261.37 L94.73 261.20 L94.69 261.01 L94.65 260.80 L94.60 260.57 L94.54 260.31 L94.47 260.02 L94.40 259.69 L94.32 259.35 L94.23 258.96 L94.13 258.53 L94.03 258.04 L93.92 257.51 L93.80 256.95 L93.66 256.38 L93.51 255.79 L93.35 255.20 L93.17 254.61 L92.97 254.05 L92.76 253.51 L92.54 252.98 L92.31 252.44 L92.06 251.90 L91.80 251.36 L91.52 250.82 L91.22 250.28 L90.90 249.75 L90.56 249.24 L90.20 248.73 L89.82 248.24 L89.42 247.74 L89.00 247.24 L88.55 246.75 L88.09 246.27 L87.61 245.81 L87.12 245.37 L86.62 244.95 L86.10 244.58 L85.58 244.24 L85.05 243.94 L84.51 243.67 L83.95 243.42 L83.37 243.20 L82.78 243.01 L82.18 242.87 L81.57 242.77 L80.95 242.73 L80.33 242.76 L79.71 242.88 L79.11 243.08 L78.56 243.35 L78.05 243.68 L77.57 244.07 L77.14 244.49 L76.73 244.95 L76.36 245.44 L76.01 245.96 L75.69 246.49 L75.40 247.06 L75.14 247.68 L74.92 248.33 L74.73 249.00 L74.56 249.69 L74.42 250.40 L74.30 251.12 L74.19 251.86 L74.09 252.60 L74.00 253.35 L73.92 254.12 L73.86 254.91 L73.81 255.75 L73.77 256.60 L73.74 257.48 L73.73 258.37 L73.73 259.26 L73.73 260.15 L73.75 261.03 L73.78 261.89 L73.81 262.72 L73.87 263.52 L73.93 264.33 L74.00 265.14 L74.07 265.95 L74.16 266.77 L74.27 267.57 L74.39 268.36 L74.55 269.15 L74.73 269.91 L74.95 270.66 L75.23 271.36 L75.53 272.05 L75.85 272.71 L76.20 273.34 L76.57 273.95 L76.95 274.54 L77.36 275.09 L77.77 275.61 L78.20 276.09 L78.65 276.55 L79.15 276.98 L79.70 277.36 L80.27 277.69 L80.85 277.99 L81.41 278.24 L81.96 278.46 L82.46 278.65 L82.90 278.81 L83.26 278.94 L83.54 279.04ZM75.59 265.93 L76.03 265.94 L76.59 265.95 L77.24 265.96 L77.96 265.97 L78.74 265.99 L79.54 266.01 L80.36 266.04 L81.16 266.09 L81.93 266.16 L82.64 266.24 L83.34 266.34 L84.05 266.46 L84.77 266.60 L85.51 266.75 L86.25 266.92 L87.00 267.09 L87.75 267.28 L88.51 267.47 L89.27 267.67 L90.03 267.87 L90.78 268.07 L91.52 268.27 L92.27 268.49 L93.02 268.71 L93.77 268.93 L94.53 269.17 L95.28 269.40 L96.03 269.65 L96.79 269.90 L97.54 270.15 L98.32 270.40 L99.12 270.66 L99.93 270.92 L100.74 271.19 L101.55 271.47 L102.33 271.74 L103.09 272.01 L103.81 272.28 L104.47 272.55 L105.08 272.80 L105.66 272.98 L106.24 273.18 L106.79 273.40 L107.33 273.63 L107.84 273.85 L108.32 274.06 L108.76 274.25 L109.17 274.42 L109.53 274.56 L109.84 274.65 L110.39 273.81 L110.20 273.57 L109.96 273.29 L109.66 272.97 L109.32 272.61 L108.92 272.23 L108.48 271.82 L108.00 271.41 L107.48 270.99 L106.91 270.58 L106.32 270.17 L105.65 269.85 L104.95 269.53 L104.20 269.21 L103.43 268.88 L102.63 268.56 L101.82 268.24 L101.00 267.93 L100.19 267.62 L99.39 267.32 L98.62 267.03 L97.85 266.76 L97.08 266.50 L96.31 266.24 L95.54 265.98 L94.77 265.74 L94.00 265.49 L93.23 265.26 L92.45 265.02 L91.68 264.80 L90.90 264.59 L90.13 264.38 L89.36 264.18 L88.58 263.98 L87.80 263.79 L87.01 263.60 L86.23 263.43 L85.44 263.26 L84.65 263.11 L83.85 262.98 L83.06 262.87 L82.23 262.79 L81.36 262.74 L80.49 262.70 L79.62 262.69 L78.77 262.69 L77.97 262.69 L77.24 262.70 L76.59 262.71 L76.05 262.72 L75.64 262.73ZM94.58 261.13 L94.97 260.89 L95.49 260.58 L96.10 260.21 L96.79 259.80 L97.53 259.36 L98.31 258.90 L99.09 258.44 L99.86 257.98 L100.59 257.55 L101.26 257.15 L101.88 256.74 L102.51 256.33 L103.15 255.92 L103.78 255.51 L104.41 255.10 L105.03 254.70 L105.63 254.30 L106.20 253.90 L106.74 253.51 L107.22 253.14 L107.62 252.79 L107.99 252.46 L108.35 252.14 L108.70 251.81 L109.04 251.48 L109.36 251.12 L109.67 250.73 L109.95 250.30 L110.18 249.84 L110.35 249.35 L110.52 248.86 L110.62 248.37 L110.68 247.88 L110.69 247.39 L110.66 246.90 L110.60 246.41 L110.50 245.94 L110.38 245.47 L110.22 245.01 L110.04 244.56 L109.82 244.10 L109.56 243.65 L109.27 243.21 L108.96 242.78 L108.63 242.35 L108.28 241.94 L107.93 241.54 L107.56 241.16 L107.20 240.79 L106.83 240.43 L106.41 240.09 L105.94 239.75 L105.46 239.42 L104.97 239.10 L104.49 238.80 L104.02 238.53 L103.59 238.28 L103.20 238.07 L102.87 237.90 L102.62 237.77 L102.08 238.49 L102.28 238.70 L102.56 238.96 L102.89 239.26 L103.26 239.58 L103.66 239.93 L104.07 240.30 L104.47 240.67 L104.85 241.05 L105.19 241.41 L105.48 241.76 L105.78 242.11 L106.08 242.48 L106.39 242.85 L106.68 243.23 L106.95 243.62 L107.21 244.00 L107.43 244.38 L107.63 244.74 L107.78 245.08 L107.90 245.40 L108.00 245.73 L108.07 246.06 L108.13 246.40 L108.16 246.72 L108.17 247.03 L108.15 247.33 L108.11 247.60 L108.06 247.84 L107.98 248.06 L107.89 248.23 L107.75 248.35 L107.59 248.44 L107.41 248.53 L107.20 248.62 L106.95 248.73 L106.64 248.86 L106.28 249.01 L105.87 249.18 L105.42 249.39 L104.93 249.62 L104.45 249.87 L103.93 250.13 L103.36 250.41 L102.75 250.70 L102.11 251.00 L101.45 251.32 L100.77 251.64 L100.08 251.96 L99.39 252.29 L98.71 252.62 L98.01 252.99 L97.27 253.39 L96.48 253.80 L95.69 254.23 L94.89 254.65 L94.13 255.05 L93.42 255.43 L92.79 255.76 L92.25 256.04 L91.84 256.25Z" fill="#000" fill-rule="nonzero"/>
<path transform="translate(-2.00 452.00)" d="M83.98 278.25 L83.73 278.05 L83.38 277.82 L82.98 277.57 L82.54 277.30 L82.07 277.01 L81.60 276.69 L81.14 276.35 L80.72 276.00 L80.35 275.64 L80.04 275.26 L79.75 274.84 L79.45 274.38 L79.16 273.89 L78.89 273.37 L78.63 272.82 L78.39 272.26 L78.16 271.68 L77.96 271.09 L77.79 270.48 L77.64 269.88 L77.51 269.26 L77.40 268.62 L77.31 267.94 L77.25 267.23 L77.20 266.49 L77.16 265.74 L77.14 264.97 L77.13 264.18 L77.12 263.38 L77.11 262.59 L77.08 261.78 L77.07 260.96 L77.06 260.12 L77.07 259.27 L77.08 258.42 L77.10 257.58 L77.14 256.75 L77.18 255.94 L77.24 255.17 L77.31 254.43 L77.37 253.71 L77.45 252.99 L77.53 252.30 L77.62 251.63 L77.72 250.99 L77.83 250.38 L77.96 249.81 L78.10 249.29 L78.25 248.82 L78.42 248.39 L78.59 247.96 L78.79 247.55 L78.99 247.17 L79.21 246.81 L79.43 246.50 L79.66 246.22 L79.88 245.99 L80.10 245.81 L80.31 245.66 L80.51 245.56 L80.73 245.49 L81.01 245.45 L81.35 245.44 L81.74 245.47 L82.17 245.54 L82.61 245.64 L83.06 245.78 L83.52 245.94 L83.96 246.13 L84.39 246.33 L84.79 246.56 L85.20 246.84 L85.63 247.17 L86.06 247.53 L86.49 247.92 L86.91 248.33 L87.32 248.76 L87.72 249.20 L88.10 249.63 L88.45 250.06 L88.77 250.49 L89.07 250.93 L89.35 251.39 L89.62 251.86 L89.88 252.33 L90.13 252.82 L90.37 253.32 L90.59 253.81 L90.81 254.31 L91.01 254.80 L91.19 255.29 L91.36 255.80 L91.52 256.33 L91.66 256.87 L91.80 257.42 L91.93 257.96 L92.05 258.48 L92.16 258.98 L92.28 259.44 L92.39 259.86 L92.52 260.23 L92.63 260.55 L92.74 260.84 L92.83 261.10 L92.93 261.34 L93.01 261.54 L93.09 261.72 L93.16 261.88 L93.22 262.01 L93.28 262.12 L94.81 261.65 L94.79 261.52 L94.76 261.37 L94.73 261.20 L94.69 261.01 L94.65 260.80 L94.60 260.57 L94.54 260.31 L94.47 260.02 L94.40 259.69 L94.32 259.35 L94.23 258.96 L94.13 258.53 L94.03 258.04 L93.92 257.51 L93.80 256.95 L93.66 256.38 L93.51 255.79 L93.35 255.20 L93.17 254.61 L92.97 254.05 L92.76 253.51 L92.54 252.98 L92.31 252.44 L92.06 251.90 L91.80 251.36 L91.52 250.82 L91.22 250.28 L90.90 249.75 L90.56 249.24 L90.20 248.73 L89.82 248.24 L89.42 247.74 L89.00 247.24 L88.55 246.75 L88.09 246.27 L87.61 245.81 L87.12 245.37 L86.62 244.95 L86.10 244.58 L85.58 244.24 L85.05 243.94 L84.51 243.67 L83.95 243.42 L83.37 243.20 L82.78 243.01 L82.18 242.87 L81.57 242.77 L80.95 242.73 L80.33 242.76 L79.71 242.88 L79.11 243.08 L78.56 243.35 L78.05 243.68 L77.57 244.07 L77.14 244.49 L76.73 244.95 L76.36 245.44 L76.01 245.96 L75.69 246.49 L75.40 247.06 L75.14 247.68 L74.92 248.33 L74.73 249.00 L74.56 249.69 L74.42 250.40 L74.30 251.12 L74.19 251.86 L74.09 252.60 L74.00 253.35 L73.92 254.12 L73.86 254.91 L73.81 255.75 L73.77 256.60 L73.74 257.48 L73.73 258.37 L73.73 259.26 L73.73 260.15 L73.75 261.03 L73.78 261.89 L73.81 262.72 L73.87 263.52 L73.93 264.33 L74.00 265.14 L74.07 265.95 L74.16 266.77 L74.27 267.57 L74.39 268.36 L74.55 269.15 L74.73 269.91 L74.95 270.66 L75.23 271.36 L75.53 272.05 L75.85 272.71 L76.20 273.34 L76.57 273.95 L76.95 274.54 L77.36 275.09 L77.77 275.61 L78.20 276.09 L78.65 276.55 L79.15 276.98 L79.70 277.36 L80.27 277.69 L80.85 277.99 L81.41 278.24 L81.96 278.46 L82.46 278.65 L82.90 278.81 L83.26 278.94 L83.54 279.04ZM75.59 265.93 L76.03 265.94 L76.59 265.95 L77.24 265.96 L77.96 265.97 L78.74 265.99 L79.54 266.01 L80.36 266.04 L81.16 266.09 L81.93 266.16 L82.64 266.24 L83.34 266.34 L84.05 266.46 L84.77 266.60 L85.51 266.75 L86.25 266.92 L87.00 267.09 L87.75 267.28 L88.51 267.47 L89.27 267.67 L90.03 267.87 L90.78 268.07 L91.52 268.27 L92.27 268.49 L93.02 268.71 L93.77 268.93 L94.53 269.17 L95.28 269.40 L96.03 269.65 L96.79 269.90 L97.54 270.15 L98.32 270.40 L99.12 270.66 L99.93 270.92 L100.74 271.19 L101.55 271.47 L102.33 271.74 L103.09 272.01 L103.81 272.28 L104.47 272.55 L105.08 272.80 L105.66 272.98 L106.24 273.18 L106.79 273.40 L107.33 273.63 L107.84 273.85 L108.32 274.06 L108.76 274.25 L109.17 274.42 L109.53 274.56 L109.84 274.65 L110.39 273.81 L110.20 273.57 L109.96 273.29 L109.66 272.97 L109.32 272.61 L108.92 272.23 L108.48 271.82 L108.00 271.41 L107.48 270.99 L106.91 270.58 L106.32 270.17 L105.65 269.85 L104.95 269.53 L104.20 269.21 L103.43 268.88 L102.63 268.56 L101.82 268.24 L101.00 267.93 L100.19 267.62 L99.39 267.32 L98.62 267.03 L97.85 266.76 L97.08 266.50 L96.31 266.24 L95.54 265.98 L94.77 265.74 L94.00 265.49 L93.23 265.26 L92.45 265.02 L91.68 264.80 L90.90 264.59 L90.13 264.38 L89.36 264.18 L88.58 263.98 L87.80 263.79 L87.01 263.60 L86.23 263.43 L85.44 263.26 L84.65 263.11 L83.85 262.98 L83.06 262.87 L82.23 262.79 L81.36 262.74 L80.49 262.70 L79.62 262.69 L78.77 262.69 L77.97 262.69 L77.24 262.70 L76.59 262.71 L76.05 262.72 L75.64 262.73ZM94.58 261.13 L94.97 260.89 L95.49 260.58 L96.10 260.21 L96.79 259.80 L97.53 259.36 L98.31 258.90 L99.09 258.44 L99.86 257.98 L100.59 257.55 L101.26 257.15 L101.88 256.74 L102.51 256.33 L103.15 255.92 L103.78 255.51 L104.41 255.10 L105.03 254.70 L105.63 254.30 L106.20 253.90 L106.74 253.51 L107.22 253.14 L107.62 252.79 L107.99 252.46 L108.35 252.14 L108.70 251.81 L109.04 251.48 L109.36 251.12 L109.67 250.73 L109.95 250.30 L110.18 249.84 L110.35 249.35 L110.52 248.86 L110.62 248.37 L110.68 247.88 L110.69 247.39 L110.66 246.90 L110.60 246.41 L110.50 245.94 L110.38 245.47 L110.22 245.01 L110.04 244.56 L109.82 244.10 L109.56 243.65 L109.27 243.21 L108.96 242.78 L108.63 242.35 L108.28 241.94 L107.93 241.54 L107.56 241.16 L107.20 240.79 L106.83 240.43 L106.41 240.09 L105.94 239.75 L105.46 239.42 L104.97 239.10 L104.49 238.80 L104.02 238.53 L103.59 238.28 L103.20 238.07 L102.87 237.90 L102.62 237.77 L102.08 238.49 L102.28 238.70 L102.56 238.96 L102.89 239.26 L103.26 239.58 L103.66 239.93 L104.07 240.30 L104.47 240.67 L104.85 241.05 L105.19 241.41 L105.48 241.76 L105.78 242.11 L106.08 242.48 L106.39 242.85 L106.68 243.23 L106.95 243.62 L107.21 244.00 L107.43 244.38 L107.63 244.74 L107.78 245.08 L107.90 245.40 L108.00 245.73 L108.07 246.06 L108.13 246.40 L108.16 246.72 L108.17 247.03 L108.15 247.33 L108.11 247.60 L108.06 247.84 L107.98 248.06 L107.89 248.23 L107.75 248.35 L107.59 248.44 L107.41 248.53 L107.20 248.62 L106.95 248.73 L106.64 248.86 L106.28 249.01 L105.87 249.18 L105.42 249.39 L104.93 249.62 L104.45 249.87 L103.93 250.13 L103.36 250.41 L102.75 250.70 L102.11 251.00 L101.45 251.32 L100.77 251.64 L100.08 251.96 L99.39 252.29 L98.71 252.62 L98.01 252.99 L97.27 253.39 L96.48 253.80 L95.69 254.23 L94.89 254.65 L94.13 255.05 L93.42 255.43 L92.79 255.76 L92.25 256.04 L91.84 256.25Z" fill="#000" fill-rule="nonzero"/>
<path transform="translate(0.00 0.00)" d="M661.83 276.29 L661.55 276.03 L661.17 275.73 L660.72 275.40 L660.22 275.03 L659.69 274.64 L659.17 274.22 L658.66 273.78 L658.20 273.32 L657.81 272.87 L657.50 272.41 L657.24 271.92 L656.99 271.39 L656.76 270.82 L656.55 270.22 L656.36 269.60 L656.19 268.95 L656.03 268.27 L655.89 267.58 L655.77 266.87 L655.66 266.15 L655.53 265.42 L655.43 264.67 L655.34 263.88 L655.27 263.07 L655.22 262.24 L655.19 261.41 L655.17 260.57 L655.16 259.73 L655.18 258.91 L655.20 258.11 L655.22 257.31 L655.26 256.50 L655.31 255.70 L655.37 254.89 L655.45 254.10 L655.55 253.33 L655.66 252.57 L655.80 251.84 L655.95 251.14 L656.13 250.47 L656.33 249.80 L656.54 249.14 L656.77 248.49 L657.02 247.86 L657.29 247.26 L657.56 246.70 L657.86 246.17 L658.16 245.70 L658.47 245.28 L658.80 244.92 L659.14 244.59 L659.52 244.28 L659.92 244.00 L660.35 243.75 L660.80 243.52 L661.27 243.33 L661.75 243.16 L662.25 243.02 L662.76 242.92 L663.27 242.84 L663.80 242.78 L664.36 242.74 L664.94 242.74 L665.54 242.77 L666.14 242.83 L666.75 242.93 L667.36 243.06 L667.97 243.24 L668.57 243.45 L669.16 243.71 L669.76 244.02 L670.37 244.39 L671.01 244.81 L671.65 245.28 L672.29 245.80 L672.94 246.35 L673.57 246.94 L674.19 247.55 L674.80 248.19 L675.39 248.84 L675.95 249.52 L676.50 250.25 L677.05 251.03 L677.59 251.84 L678.12 252.67 L678.63 253.51 L679.12 254.36 L679.58 255.21 L680.02 256.04 L680.43 256.86 L680.79 257.65 L681.11 258.44 L681.41 259.22 L681.69 260.00 L681.95 260.78 L682.18 261.56 L682.41 262.35 L682.61 263.16 L682.81 263.97 L683.00 264.80 L683.25 265.67 L683.49 266.61 L683.72 267.62 L683.93 268.66 L684.13 269.68 L684.32 270.68 L684.49 271.60 L684.65 272.43 L684.80 273.13 L684.94 273.67 L685.74 273.57 L685.75 273.02 L685.74 272.31 L685.73 271.47 L685.71 270.53 L685.67 269.51 L685.62 268.44 L685.55 267.36 L685.47 266.29 L685.37 265.26 L685.24 264.31 L685.03 263.43 L684.80 262.58 L684.56 261.74 L684.31 260.91 L684.04 260.09 L683.75 259.27 L683.43 258.44 L683.09 257.62 L682.72 256.79 L682.33 255.95 L681.92 255.09 L681.48 254.22 L681.01 253.32 L680.52 252.42 L680.00 251.53 L679.47 250.64 L678.91 249.78 L678.34 248.94 L677.76 248.13 L677.16 247.37 L676.57 246.64 L675.95 245.92 L675.31 245.22 L674.66 244.54 L673.98 243.89 L673.30 243.27 L672.60 242.69 L671.89 242.15 L671.17 241.66 L670.45 241.23 L669.70 240.85 L668.94 240.53 L668.18 240.26 L667.40 240.04 L666.63 239.87 L665.87 239.74 L665.11 239.66 L664.37 239.62 L663.64 239.62 L662.93 239.66 L662.22 239.75 L661.52 239.88 L660.83 240.06 L660.14 240.29 L659.47 240.56 L658.82 240.87 L658.18 241.23 L657.57 241.64 L656.99 242.10 L656.44 242.61 L655.92 243.17 L655.45 243.79 L655.02 244.43 L654.62 245.11 L654.26 245.81 L653.93 246.54 L653.63 247.28 L653.35 248.03 L653.09 248.78 L652.86 249.55 L652.65 250.34 L652.47 251.16 L652.31 252.00 L652.18 252.86 L652.07 253.72 L651.98 254.59 L651.91 255.46 L651.86 256.33 L651.83 257.19 L651.80 258.05 L651.82 258.92 L651.84 259.80 L651.89 260.69 L651.95 261.59 L652.03 262.49 L652.13 263.38 L652.25 264.26 L652.38 265.12 L652.54 265.96 L652.72 266.77 L652.94 267.53 L653.18 268.29 L653.44 269.03 L653.71 269.75 L654.01 270.46 L654.33 271.14 L654.68 271.80 L655.05 272.44 L655.46 273.03 L655.90 273.61 L656.42 274.15 L657.01 274.64 L657.63 275.09 L658.27 275.49 L658.90 275.85 L659.51 276.17 L660.08 276.45 L660.59 276.69 L661.00 276.88 L661.32 277.04ZM652.78 263.48 L653.29 263.53 L653.93 263.57 L654.66 263.61 L655.47 263.65 L656.34 263.70 L657.26 263.78 L658.21 263.87 L659.17 263.98 L660.12 264.13 L661.06 264.31 L662.04 264.52 L663.10 264.78 L664.21 265.07 L665.37 265.39 L666.55 265.74 L667.74 266.09 L668.92 266.46 L670.08 266.83 L671.20 267.20 L672.27 267.55 L673.33 267.90 L674.40 268.25 L675.46 268.61 L676.50 268.97 L677.51 269.33 L678.47 269.69 L679.37 270.04 L680.18 270.39 L680.90 270.73 L681.49 271.04 L681.99 271.26 L682.42 271.51 L682.81 271.77 L683.16 272.06 L683.48 272.36 L683.77 272.67 L684.05 272.98 L684.31 273.28 L684.58 273.57 L684.84 273.77 L686.14 272.85 L686.09 272.61 L686.02 272.33 L685.92 271.95 L685.78 271.50 L685.57 271.00 L685.30 270.45 L684.94 269.86 L684.48 269.27 L683.91 268.68 L683.25 268.12 L682.47 267.69 L681.62 267.27 L680.72 266.86 L679.75 266.45 L678.74 266.05 L677.70 265.66 L676.63 265.27 L675.55 264.89 L674.48 264.51 L673.42 264.14 L672.34 263.77 L671.20 263.39 L670.02 263.01 L668.82 262.62 L667.60 262.24 L666.39 261.88 L665.18 261.53 L664.01 261.21 L662.88 260.93 L661.79 260.68 L660.71 260.50 L659.63 260.35 L658.56 260.24 L657.53 260.17 L656.55 260.11 L655.64 260.07 L654.81 260.05 L654.08 260.03 L653.49 260.01 L653.01 259.99Z" fill="#000" fill-rule="nonzero"/>
<path transform="translate(18.40 462.60)" d="M661.83 276.29 L661.55 276.03 L661.17 275.73 L660.72 275.40 L660.22 275.03 L659.69 274.64 L659.17 274.22 L658.66 273.78 L658.20 273.32 L657.81 272.87 L657.50 272.41 L657.24 271.92 L656.99 271.39 L656.76 270.82 L656.55 270.22 L656.36 269.60 L656.19 268.95 L656.03 268.27 L655.89 267.58 L655.77 266.87 L655.66 266.15 L655.53 265.42 L655.43 264.67 L655.34 263.88 L655.27 263.07 L655.22 262.24 L655.19 261.41 L655.17 260.57 L655.16 259.73 L655.18 258.91 L655.20 258.11 L655.22 257.31 L655.26 256.50 L655.31 255.70 L655.37 254.89 L655.45 254.10 L655.55 253.33 L655.66 252.57 L655.80 251.84 L655.95 251.14 L656.13 250.47 L656.33 249.80 L656.54 249.14 L656.77 248.49 L657.02 247.86 L657.29 247.26 L657.56 246.70 L657.86 246.17 L658.16 245.70 L658.47 245.28 L658.80 244.92 L659.14 244.59 L659.52 244.28 L659.92 244.00 L660.35 243.75 L660.80 243.52 L661.27 243.33 L661.75 243.16 L662.25 243.02 L662.76 242.92 L663.27 242.84 L663.80 242.78 L664.36 242.74 L664.94 242.74 L665.54 242.77 L666.14 242.83 L666.75 242.93 L667.36 243.06 L667.97 243.24 L668.57 243.45 L669.16 243.71 L669.76 244.02 L670.37 244.39 L671.01 244.81 L671.65 245.28 L672.29 245.80 L672.94 246.35 L673.57 246.94 L674.19 247.55 L674.80 248.19 L675.39 248.84 L675.95 249.52 L676.50 250.25 L677.05 251.03 L677.59 251.84 L678.12 252.67 L678.63 253.51 L679.12 254.36 L679.58 255.21 L680.02 256.04 L680.43 256.86 L680.79 257.65 L681.11 258.44 L681.41 259.22 L681.69 260.00 L681.95 260.78 L682.18 261.56 L682.41 262.35 L682.61 263.16 L682.81 263.97 L683.00 264.80 L683.25 265.67 L683.49 266.61 L683.72 267.62 L683.93 268.66 L684.13 269.68 L684.32 270.68 L684.49 271.60 L684.65 272.43 L684.80 273.13 L684.94 273.67 L685.74 273.57 L685.75 273.02 L685.74 272.31 L685.73 271.47 L685.71 270.53 L685.67 269.51 L685.62 268.44 L685.55 267.36 L685.47 266.29 L685.37 265.26 L685.24 264.31 L685.03 263.43 L684.80 262.58 L684.56 261.74 L684.31 260.91 L684.04 260.09 L683.75 259.27 L683.43 258.44 L683.09 257.62 L682.72 256.79 L682.33 255.95 L681.92 255.09 L681.48 254.22 L681.01 253.32 L680.52 252.42 L680.00 251.53 L679.47 250.64 L678.91 249.78 L678.34 248.94 L677.76 248.13 L677.16 247.37 L676.57 246.64 L675.95 245.92 L675.31 245.22 L674.66 244.54 L673.98 243.89 L673.30 243.27 L672.60 242.69 L671.89 242.15 L671.17 241.66 L670.45 241.23 L669.70 240.85 L668.94 240.53 L668.18 240.26 L667.40 240.04 L666.63 239.87 L665.87 239.74 L665.11 239.66 L664.37 239.62 L663.64 239.62 L662.93 239.66 L662.22 239.75 L661.52 239.88 L660.83 240.06 L660.14 240.29 L659.47 240.56 L658.82 240.87 L658.18 241.23 L657.57 241.64 L656.99 242.10 L656.44 242.61 L655.92 243.17 L655.45 243.79 L655.02 244.43 L654.62 245.11 L654.26 245.81 L653.93 246.54 L653.63 247.28 L653.35 248.03 L653.09 248.78 L652.86 249.55 L652.65 250.34 L652.47 251.16 L652.31 252.00 L652.18 252.86 L652.07 253.72 L651.98 254.59 L651.91 255.46 L651.86 256.33 L651.83 257.19 L651.80 258.05 L651.82 258.92 L651.84 259.80 L651.89 260.69 L651.95 261.59 L652.03 262.49 L652.13 263.38 L652.25 264.26 L652.38 265.12 L652.54 265.96 L652.72 266.77 L652.94 267.53 L653.18 268.29 L653.44 269.03 L653.71 269.75 L654.01 270.46 L654.33 271.14 L654.68 271.80 L655.05 272.44 L655.46 273.03 L655.90 273.61 L656.42 274.15 L657.01 274.64 L657.63 275.09 L658.27 275.49 L658.90 275.85 L659.51 276.17 L660.08 276.45 L660.59 276.69 L661.00 276.88 L661.32 277.04ZM652.78 263.48 L653.29 263.53 L653.93 263.57 L654.66 263.61 L655.47 263.65 L656.34 263.70 L657.26 263.78 L658.21 263.87 L659.17 263.98 L660.12 264.13 L661.06 264.31 L662.04 264.52 L663.10 264.78 L664.21 265.07 L665.37 265.39 L666.55 265.74 L667.74 266.09 L668.92 266.46 L670.08 266.83 L671.20 267.20 L672.27 267.55 L673.33 267.90 L674.40 268.25 L675.46 268.61 L676.50 268.97 L677.51 269.33 L678.47 269.69 L679.37 270.04 L680.18 270.39 L680.90 270.73 L681.49 271.04 L681.99 271.26 L682.42 271.51 L682.81 271.77 L683.16 272.06 L683.48 272.36 L683.77 272.67 L684.05 272.98 L684.31 273.28 L684.58 273.57 L684.84 273.77 L686.14 272.85 L686.09 272.61 L686.02 272.33 L685.92 271.95 L685.78 271.50 L685.57 271.00 L685.30 270.45 L684.94 269.86 L684.48 269.27 L683.91 268.68 L683.25 268.12 L682.47 267.69 L681.62 267.27 L680.72 266.86 L679.75 266.45 L678.74 266.05 L677.70 265.66 L676.63 265.27 L675.55 264.89 L674.48 264.51 L673.42 264.14 L672.34 263.77 L671.20 263.39 L670.02 263.01 L668.82 262.62 L667.60 262.24 L666.39 261.88 L665.18 261.53 L664.01 261.21 L662.88 260.93 L661.79 260.68 L660.71 260.50 L659.63 260.35 L658.56 260.24 L657.53 260.17 L656.55 260.11 L655.64 260.07 L654.81 260.05 L654.08 260.03 L653.49 260.01 L653.01 259.99Z" fill="#000" fill-rule="nonzero"/>
</svg></body></html>
